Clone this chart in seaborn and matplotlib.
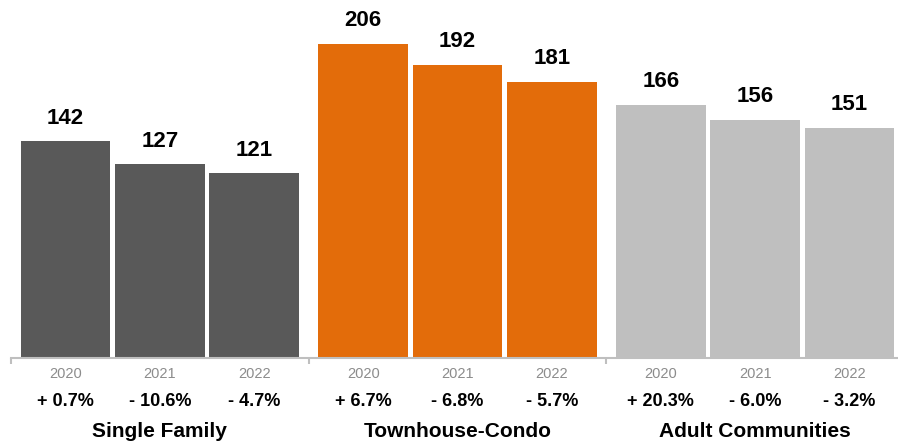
import matplotlib
matplotlib.use("Agg")
import matplotlib.pyplot as plt
import seaborn as sns
import pandas as pd

# Median values by property type and year
groups = ["Single Family", "Townhouse-Condo", "Adult Communities"]
years = ["2020", "2021", "2022"]
single_family = [142, 127, 121]
townhouse_condo = [206, 192, 181]
adult_communities = [166, 156, 151]
pct_single_family = ["+ 0.7%", "- 10.6%", "- 4.7%"]
pct_townhouse_condo = ["+ 6.7%", "- 6.8%", "- 5.7%"]
pct_adult_communities = ["+ 20.3%", "- 6.0%", "- 3.2%"]
group_colors = ["#595959", "#E36C0A", "#BFBFBF"]

values = [single_family, townhouse_condo, adult_communities]
pcts = [pct_single_family, pct_townhouse_condo, pct_adult_communities]

rows = []
for g, vals, pc in zip(groups, values, pcts):
    for y, v, p in zip(years, vals, pc):
        rows.append({"group": g, "year": y, "value": v, "pct": p})
df = pd.DataFrame(rows)

sns.set_style("white")
plt.rcParams["font.family"] = ["Liberation Sans", "DejaVu Sans"]

W, H = 898, 444
fig = plt.figure(figsize=(W / 100, H / 100), dpi=100)
ax = fig.add_axes([11 / W, 86 / H, 893 / W, 358 / H])

sns.barplot(data=df, x="group", y="value", hue="year", order=groups,
            hue_order=years, width=0.95, gap=0.05, dodge=True,
            saturation=1, legend=False, ax=ax)

ax.set_xlim(-0.5, 2.5)
ax.set_ylim(0, 358 / 1.526)

lookup = {(r.group, r.year): r for r in df.itertuples()}
for yi, cont in enumerate(ax.containers):
    for gi, bar in enumerate(cont):
        bar.set_facecolor(group_colors[gi])
        bar.set_edgecolor("none")
        rec = lookup[(groups[gi], years[yi])]
        cx = bar.get_x() + bar.get_width() / 2
        ax.annotate(f"{rec.value:g}", xy=(cx, bar.get_height()),
                    xytext=(0, 12.7), textcoords="offset points",
                    ha="center", va="baseline", fontsize=16,
                    fontweight="bold", color="#000000")
        ax.annotate(rec.year, xy=(cx, 0), xycoords=("data", "axes fraction"),
                    xytext=(0, -14.4), textcoords="offset points",
                    ha="center", va="baseline", fontsize=10.5,
                    color="#8C8C8C")
        ax.annotate(rec.pct, xy=(cx, 0), xycoords=("data", "axes fraction"),
                    xytext=(0, -34.6), textcoords="offset points",
                    ha="center", va="baseline", fontsize=13,
                    fontweight="bold", color="#000000")

for gi, g in enumerate(groups):
    ax.annotate(g, xy=(gi, 0), xycoords=("data", "axes fraction"),
                xytext=(0, -56.9), textcoords="offset points",
                ha="center", va="baseline", fontsize=15,
                fontweight="bold", color="#000000")

ax.set_xticks([-0.5, 0.5, 1.5, 2.5])
ax.set_xticklabels([])
ax.set_yticks([])
ax.set_xlabel("")
ax.set_ylabel("")
ax.tick_params(axis="x", direction="out", length=4.5, width=1.5,
               color="#BFBFBF", bottom=True)
for side in ["left", "top", "right"]:
    ax.spines[side].set_visible(False)
ax.spines["bottom"].set_color("#BFBFBF")
ax.spines["bottom"].set_linewidth(1.5)
ax.patch.set_alpha(0)

fig.savefig("out.png", dpi=100)
